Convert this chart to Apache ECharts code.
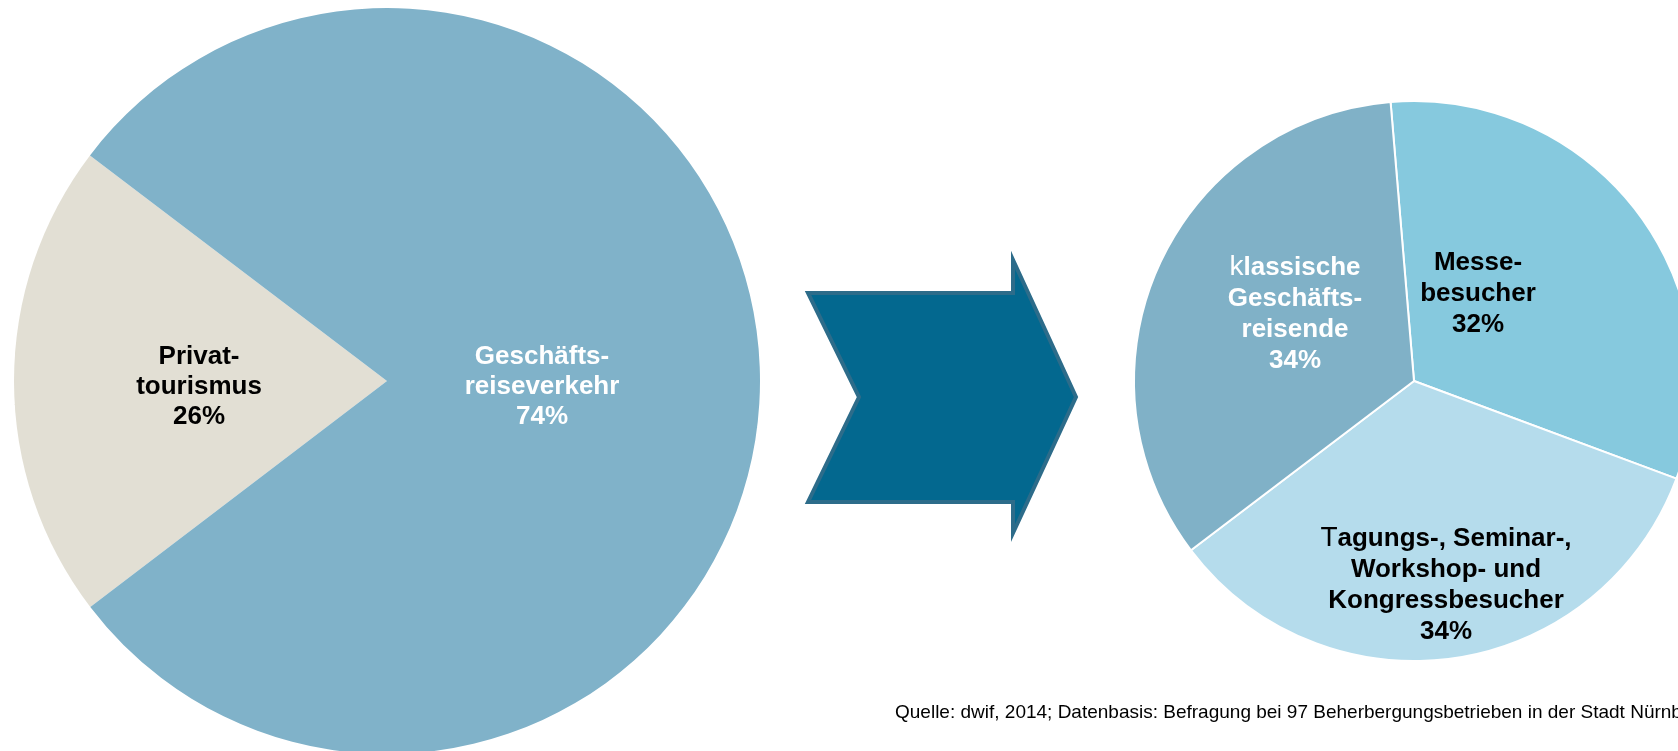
<!DOCTYPE html>
<html>
<head>
<meta charset="utf-8">
<script src="https://cdn.jsdelivr.net/npm/echarts@6/dist/echarts.min.js"></script>
<style>
    html, body { margin: 0; padding: 0; background: #fff; }
    #chart { width: 1678px; height: 751px; }
</style>
</head>
<body>
<div id="chart"></div>
<script>
    // left pie: share of overnight stays
    const leftNames = ['Privat-\ntourismus', 'Geschäfts-\nreiseverkehr'];
    const leftShares = [26, 74];          // printed percentages
    const leftValues = [20.7, 79.3];      // wedge sizes as drawn in the original
    const leftColors = ['#e2dfd4', '#80b2c9'];
    const leftTextColors = ['#000', '#fff'];

    // right pie: split of business travel
    const rightNames = ['Messe-\nbesucher', 'Tagungs-, Seminar-,\nWorkshop- und\nKongressbesucher', 'klassische\nGeschäfts-\nreisende'];
    const rightValues = [32, 34, 34];
    const rightColors = ['#86c9de', '#b5dcec', '#80b1c7'];
    const rightTextColors = ['#000', '#000', '#fff'];

    const source = 'Quelle: dwif, 2014; Datenbasis: Befragung bei 97 Beherbergungsbetrieben in der Stadt Nürnberg';

    const font = '"Liberation Sans", Arial, sans-serif';
    const leftLabelPos = [[199, 387], [542, 387]];
    const rightLabelPos = [[1478, 294], [1446, 585], [1295, 314]];

    // first letter drawn in regular weight (as in the source slide)
    function thinFirst(name) {
        return '{thin|' + name.charAt(0) + '}' + name.slice(1);
    }

    const myChart = echarts.init(document.getElementById('chart'));
    myChart.setOption({
        animation: false,
        title: {
            text: source,
            left: 895,
            top: 703,
            padding: 0,
            textStyle: {
                fontFamily: font,
                fontSize: 19,
                fontWeight: 'normal',
                color: '#000'
            }
        },
        graphic: [{
            type: 'polygon',
            shape: {
                points: [[808, 293], [1013, 293], [1013, 260], [1076, 397], [1013, 533],
                         [1013, 502], [808, 502], [859, 397]]
            },
            style: {
                fill: '#03688f',
                stroke: '#2d6c8a',
                lineWidth: 4
            }
        }],
        series: [{
            type: 'pie',
            center: [387, 381],
            radius: 373,
            startAngle: 217.3,
            clockwise: true,
            silent: true,
            itemStyle: { borderWidth: 0 },
            label: {
                position: 'inside',
                fontFamily: font,
                fontSize: 26,
                fontWeight: 'bold',
                lineHeight: 30,
                align: 'center',
                formatter: function (p) {
                    return p.name + '\n' + leftShares[p.dataIndex] + '%';
                }
            },
            labelLayout: function (p) {
                const pos = leftLabelPos[p.dataIndex];
                return { x: pos[0], y: pos[1], align: 'center', verticalAlign: 'middle' };
            },
            data: leftNames.map(function (n, i) {
                return {
                    name: n,
                    value: leftValues[i],
                    itemStyle: { color: leftColors[i] },
                    label: { color: leftTextColors[i] }
                };
            })
        }, {
            type: 'pie',
            center: [1414, 381],
            radius: 280,
            startAngle: 94.8,
            clockwise: true,
            silent: true,
            itemStyle: { borderColor: '#fff', borderWidth: 2 },
            label: {
                position: 'inside',
                fontFamily: font,
                fontSize: 26,
                fontWeight: 'bold',
                lineHeight: 31,
                align: 'center',
                formatter: function (p) {
                    const name = p.dataIndex === 0 ? p.name : thinFirst(p.name);
                    return name + '\n' + p.value + '%';
                },
                rich: {
                    thin: { fontFamily: font, fontSize: 28, fontWeight: 'normal', lineHeight: 31 }
                }
            },
            labelLayout: function (p) {
                const pos = rightLabelPos[p.dataIndex];
                return { x: pos[0], y: pos[1], align: 'center', verticalAlign: 'middle' };
            },
            data: rightNames.map(function (n, i) {
                return {
                    name: n,
                    value: rightValues[i],
                    itemStyle: { color: rightColors[i] },
                    label: { color: rightTextColors[i] }
                };
            })
        }]
    });
</script>
</body>
</html>
